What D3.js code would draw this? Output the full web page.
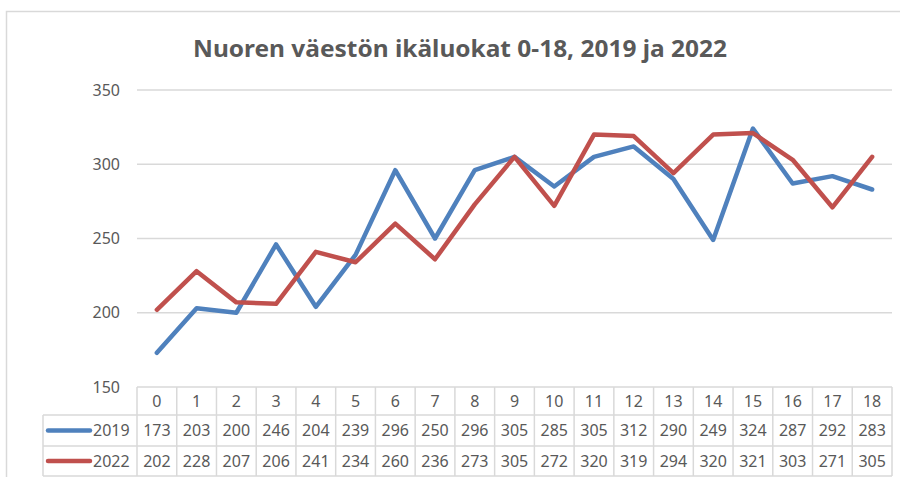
<!DOCTYPE html>
<html><head><meta charset="utf-8">
<script src="https://cdn.jsdelivr.net/npm/d3@7"></script>
<style>body{margin:0;background:#fff;}svg{display:block;font-family:"Noto Sans",sans-serif;}</style>
</head><body>
<svg id="c" width="900" height="477"></svg>
<script>
const categories = ["0","1","2","3","4","5","6","7","8","9","10","11","12","13","14","15","16","17","18"];
const series2019 = [173,203,200,246,204,239,296,250,296,305,285,305,312,290,249,324,287,292,283];
const series2022 = [202,228,207,206,241,234,260,236,273,305,272,320,319,294,320,321,303,271,305];
const seriesNames = ["2019","2022"];
const yTicks = [150,200,250,300,350];
const titleText = "Nuoren väestön ikäluokat 0-18, 2019 ja 2022";

const series = [
  {name: seriesNames[0], values: series2019, color: "#4F81BD"},
  {name: seriesNames[1], values: series2022, color: "#C0504D"}
];

const svg = d3.select("#c");
const txt = "#595959", grid = "#d9d9d9";

// outer border
svg.append("path").attr("d","M6.5,480 V11.5 H905").attr("fill","none").attr("stroke",grid).attr("stroke-width",1.5);

// title
svg.append("text").attr("x",460).attr("y",57).attr("text-anchor","middle")
  .attr("fill",txt).attr("font-weight","bold").attr("font-size",24)
  .attr("textLength",534).attr("lengthAdjust","spacingAndGlyphs").text(titleText);

const x = d3.scaleBand().domain(categories).range([137,892]);
const y = d3.scaleLinear().domain([150,350]).range([387,90]);

// gridlines
svg.append("g").selectAll("line").data(yTicks.filter(d=>d>150)).join("line")
  .attr("x1",137).attr("x2",892).attr("y1",d=>y(d)).attr("y2",d=>y(d))
  .attr("stroke",grid).attr("stroke-width",1.5);

// y labels
svg.append("g").selectAll("text").data(yTicks).join("text")
  .attr("x",120).attr("y",d=>y(d)).attr("dy","0.35em").attr("text-anchor","end")
  .attr("fill",txt).attr("font-size",16).text(d=>d);

// lines
const line = d3.line().x((d,i)=>x(categories[i])+x.bandwidth()/2).y(d=>y(d));
svg.append("g").selectAll("path").data(series).join("path")
  .attr("d",d=>line(d.values)).attr("fill","none").attr("stroke",d=>d.color)
  .attr("stroke-width",4.5).attr("stroke-linejoin","round").attr("stroke-linecap","round");

// data table
const rowY = [387,415,446,476];
const tg = svg.append("g");
tg.append("line").attr("x1",137).attr("x2",892).attr("y1",rowY[0]).attr("y2",rowY[0]).attr("stroke",grid).attr("stroke-width",1.5);
[1,2,3].forEach(r=>{
  tg.append("line").attr("x1",43).attr("x2",892).attr("y1",rowY[r]).attr("y2",rowY[r]).attr("stroke",grid).attr("stroke-width",1.5);
});
const bounds = categories.map(c=>x(c)).concat([x.range()[1]]);
tg.selectAll("line.v").data(bounds).join("line").attr("class","v")
  .attr("x1",d=>d).attr("x2",d=>d).attr("y1",rowY[0]).attr("y2",rowY[3])
  .attr("stroke",grid).attr("stroke-width",1.5);
tg.append("line").attr("x1",43).attr("x2",43).attr("y1",rowY[1]).attr("y2",rowY[3]).attr("stroke",grid).attr("stroke-width",1.5);

tg.selectAll("text.h").data(categories).join("text").attr("class","h")
  .attr("x",d=>x(d)+x.bandwidth()/2).attr("y",(rowY[0]+rowY[1])/2).attr("dy","0.35em")
  .attr("text-anchor","middle").attr("fill",txt).attr("font-size",16).text(d=>d);

series.forEach((s,si)=>{
  const cy = (rowY[si+1]+rowY[si+2])/2;
  tg.append("line").attr("x1",48).attr("x2",90).attr("y1",cy).attr("y2",cy)
    .attr("stroke",s.color).attr("stroke-width",4.5).attr("stroke-linecap","round");
  tg.append("text").attr("x",93).attr("y",cy).attr("dy","0.35em").attr("fill",txt)
    .attr("font-size",16).text(s.name);
  tg.selectAll("text.v"+si).data(s.values).join("text").attr("class","v"+si)
    .attr("x",(d,i)=>x(categories[i])+x.bandwidth()/2).attr("y",cy).attr("dy","0.35em")
    .attr("text-anchor","middle").attr("fill",txt).attr("font-size",16).text(d=>d);
});
</script>
</body></html>
